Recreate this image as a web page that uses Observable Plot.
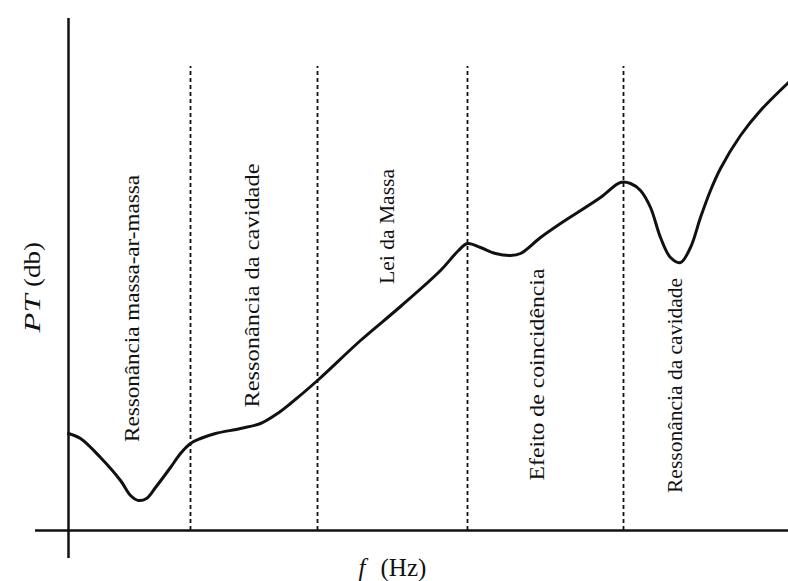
<!DOCTYPE html>
<html>
<head>
<meta charset="utf-8">
<script src="https://cdn.jsdelivr.net/npm/d3@7"></script>
<script src="https://cdn.jsdelivr.net/npm/@observablehq/plot@0.6"></script>
<style>
  html, body { margin: 0; padding: 0; background: #fff; }
  #chart svg { display: block; }
</style>
</head>
<body>
<div id="chart"></div>
<script>
// Transmission loss (PT) of a double wall versus frequency (schematic, arbitrary units)
const freq = [0, 12, 32, 52, 62, 70, 78, 87, 102, 112, 122, 132, 147, 172, 192, 209, 222, 249,
  292, 332, 372, 390, 399, 412, 427, 442, 452, 472, 492, 532, 552, 562, 572, 582, 592, 602,
  612, 622, 632, 642, 652, 672, 692, 720];
const pt = [97, 92, 73, 50, 35, 30, 32, 43, 63, 77, 87, 92, 97, 102, 107, 117, 127, 150,
  190, 224, 260, 280, 287, 283, 277, 275, 277, 293, 307, 333, 348, 347, 340, 323, 293, 273,
  268, 283, 313, 340, 362, 395, 420, 448];

// Frequencies separating the behaviour regions
const boundaries = [122, 249, 399, 555];
const boundaryTop = 464;

// Region names and where they sit
const regionNames = [
  "Ressonância massa-ar-massa",
  "Ressonância da cavidade",
  "Lei da Massa",
  "Efeito de coincidência",
  "Ressonância da cavidade"
];
const regionF = [64, 184, 319, 469, 607];
const regionPT = [222, 245, 304, 156, 145];

// Axis extents
const xExtent = [-33, 720];
const yExtent = [-28, 512];

const curve = freq.map((f, i) => ({f, pt: pt[i]}));
const regions = regionNames.map((name, i) => ({name, f: regionF[i], pt: regionPT[i]}));

// Stretched lettering lengths (px) for the region names and the y title
const regionLengths = [267, 244, 115, 212, 215];
const yTitleLengths = [38, 45];

const serif = "Liberation Serif, Times New Roman, serif";

const chart = Plot.plot({
  width: 788,
  height: 581,
  marginLeft: 35,
  marginRight: 0,
  marginTop: 18,
  marginBottom: 23,
  x: {domain: xExtent, axis: null},
  y: {domain: yExtent, axis: null},
  style: {background: "white", fontFamily: serif, color: "black"},
  marks: [
    Plot.ruleX(boundaries, {y1: 0, y2: boundaryTop, stroke: "#111", strokeWidth: 1.8, strokeDasharray: "4,3"}),
    Plot.ruleY([0], {x1: xExtent[0], x2: xExtent[1], stroke: "#111", strokeWidth: 2.5}),
    Plot.ruleX([0], {y1: yExtent[0], y2: yExtent[1], stroke: "#111", strokeWidth: 2.5}),
    Plot.line(curve, {x: "f", y: "pt", curve: "catmull-rom", stroke: "#111", strokeWidth: 3}),
    Plot.text(regions, {
      x: "f", y: "pt", text: "name", rotate: -90, textAnchor: "middle",
      fontSize: 20, fontFamily: serif, fill: "#111"
    }),
    // y-axis title: PT (db)
    Plot.text(["PT"], {x: -36, y: 217, text: d => d, rotate: -90, fontSize: 24,
      fontStyle: "italic", fontFamily: serif, fill: "#111"}),
    Plot.text(["(db)"], {x: -36, y: 266, text: d => d, rotate: -90, fontSize: 24,
      fontFamily: serif, fill: "#111"}),
    // x-axis title: f (Hz)
    Plot.text(["f"], {x: 297, y: -37, text: d => d, textAnchor: "end", fontSize: 25,
      fontStyle: "italic", fontFamily: serif, fill: "#111"}),
    Plot.text(["(Hz)"], {x: 312, y: -37, text: d => d, textAnchor: "start", fontSize: 25,
      fontFamily: serif, fill: "#111"})
  ]
});

// Stretch the rotated lettering along its reading direction
const textGroups = chart.querySelectorAll('g[aria-label="text"]');
const stretch = (group, lengths) => d3.select(group).selectAll("text")
  .attr("textLength", (d, i) => lengths[i])
  .attr("lengthAdjust", "spacingAndGlyphs");
stretch(textGroups[0], regionLengths);
stretch(textGroups[1], [yTitleLengths[0]]);
stretch(textGroups[2], [yTitleLengths[1]]);

document.getElementById("chart").appendChild(chart);
</script>
</body>
</html>
